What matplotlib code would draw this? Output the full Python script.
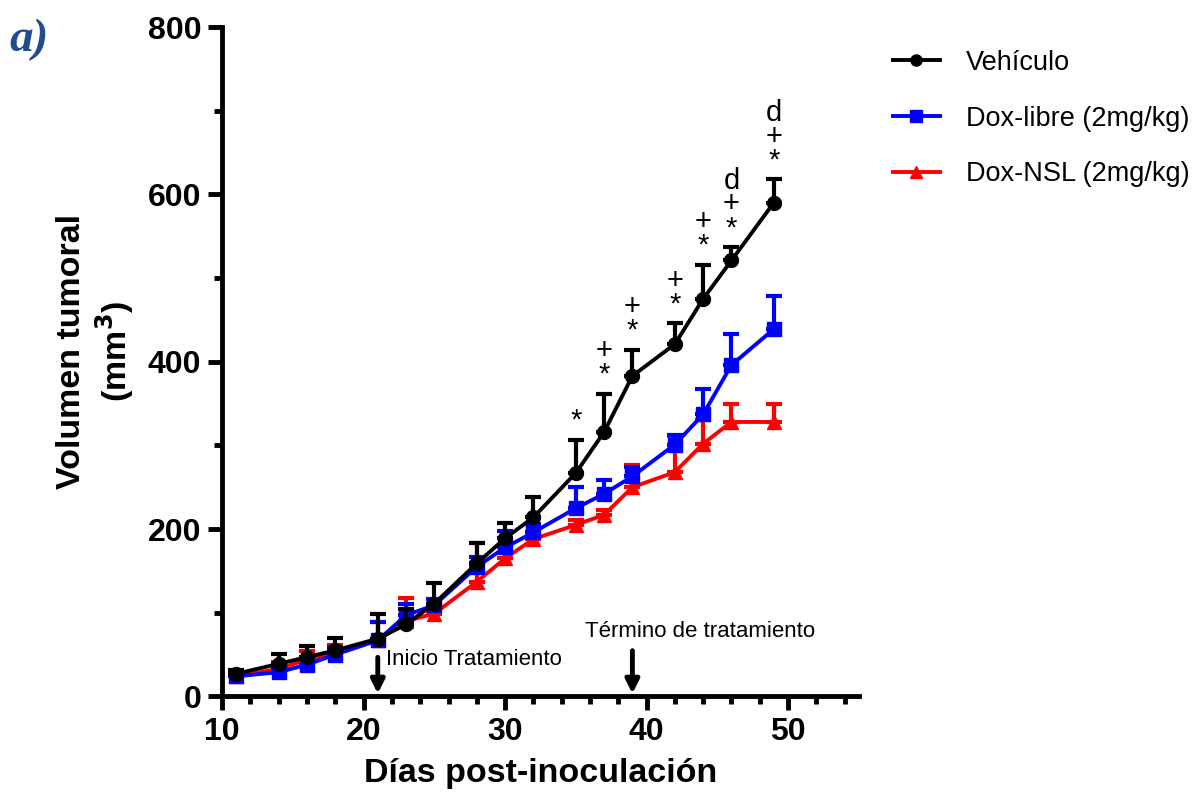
import numpy as np
from matplotlib import pyplot as plt
from matplotlib.ticker import MultipleLocator

dias = [11, 14, 16, 18, 21, 23, 25, 28, 30, 32, 35, 37, 39, 42, 44, 46, 49]

vehiculo = [27, 39, 47, 55, 69, 86, 111, 159, 189, 214, 267, 316, 383, 421, 475, 521, 590]
vehiculo_err = [5, 12, 13, 15, 29, 19, 24, 24, 18, 24, 40, 46, 31, 25, 41, 16, 28]

dox_libre = [24, 29, 38, 50, 67, 97, 109, 155, 178, 196, 225, 242, 263, 301, 337, 396, 439]
dox_libre_err = [4, 6, 8, 9, 22, 14, 8, 12, 20, 10, 25, 17, 11, 12, 31, 37, 39]

dox_nsl = [24, 33, 44, 52, 67, 90, 99, 137, 165, 188, 205, 217, 250, 268, 302, 328, 328]
dox_nsl_err = [4, 8, 10, 10, 22, 28, 10, 46, 15, 8, 6, 6, 27, 43, 28, 22, 22]

# signos de significancia sobre Vehiculo (de arriba hacia abajo)
signos = {35: "*", 37: "+\n*", 39: "+\n*", 42: "+\n*", 44: "+\n*", 46: "d\n+\n*", 49: "d\n+\n*"}

plt.rcParams['font.family'] = ['Liberation Sans', 'DejaVu Sans']

fig = plt.figure(figsize=(12.01, 7.95), dpi=100)
ax = fig.add_axes([0.185, 0.124, 0.53, 0.842])

series = [
    (dox_nsl, dox_nsl_err, "red", "^", "Dox-NSL (2mg/kg)", 2),
    (dox_libre, dox_libre_err, "blue", "s", "Dox-libre (2mg/kg)", 3),
    (vehiculo, vehiculo_err, "black", "o", "Vehículo", 4),
]
handles = {}
for vals, err, col, mk, lab, z in series:
    vals = np.array(vals)
    err = np.array(err)
    ax.errorbar(dias, vals, yerr=[np.zeros_like(err), err], fmt="none",
                ecolor=col, elinewidth=3, capsize=6, capthick=3, zorder=z)
    h, = ax.plot(dias, vals, color=col, marker=mk, markersize=10, lw=2.8,
                 label=lab, zorder=z + 0.5)
    handles[lab] = h

for i, d in enumerate(dias):
    if d in signos:
        ax.text(d, vehiculo[i] + vehiculo_err[i] + 6, signos[d], ha="center", va="bottom",
                fontsize=21, linespacing=0.8)

# flechas de tratamiento
ax.annotate("", xy=(21, 0), xytext=(21, 50),
            arrowprops=dict(arrowstyle="-|>,head_width=0.4,head_length=0.8", color="black", lw=3.5),
            annotation_clip=False)
ax.text(21.6, 44, "Inicio Tratamiento", fontsize=16, ha="left", va="center")
ax.annotate("", xy=(39, 0), xytext=(39, 58),
            arrowprops=dict(arrowstyle="-|>,head_width=0.4,head_length=0.8", color="black", lw=3.5),
            annotation_clip=False)
ax.text(43.8, 77, "Término de tratamiento", fontsize=16, ha="center", va="center")

ax.set_xlim(10, 55)
ax.set_ylim(0, 800)
ax.xaxis.set_major_locator(MultipleLocator(10))
ax.xaxis.set_minor_locator(MultipleLocator(2))
ax.yaxis.set_major_locator(MultipleLocator(200))
ax.yaxis.set_minor_locator(MultipleLocator(100))
ax.set_xticks([10, 20, 30, 40, 50])
ax.tick_params(which="major", length=10, width=3.5, labelsize=23, pad=5)
ax.tick_params(which="minor", length=6, width=3.5)
for t in ax.get_xticklabels() + ax.get_yticklabels():
    t.set_fontweight("bold")
ax.spines["top"].set_visible(False)
ax.spines["right"].set_visible(False)
ax.spines["left"].set_linewidth(3.5)
ax.spines["bottom"].set_linewidth(3.5)

ax.set_xlabel("Días post-inoculación", fontsize=24.5, fontweight="bold", labelpad=8)
ax.set_ylabel("Volumen tumoral\n(mm$^\\mathbf{3}$)", fontsize=24.5, fontweight="bold", labelpad=6)
ax.yaxis.set_label_coords(-0.135, 0.515)

leg = fig.legend([handles["Vehículo"], handles["Dox-libre (2mg/kg)"], handles["Dox-NSL (2mg/kg)"]],
                 ["Vehículo", "Dox-libre (2mg/kg)", "Dox-NSL (2mg/kg)"],
                 loc="upper left", bbox_to_anchor=(0.723, 0.968), frameon=False,
                 fontsize=19.5, labelspacing=1.1, handlelength=1.75, handletextpad=0.95,
                 markerscale=0.8)

fig.text(0.008, 0.95, "a)", fontsize=34, fontweight="bold", fontstyle="italic",
         family="Liberation Serif", color="#1f4e8c", va="center")

fig.savefig("out.png", dpi=100)
